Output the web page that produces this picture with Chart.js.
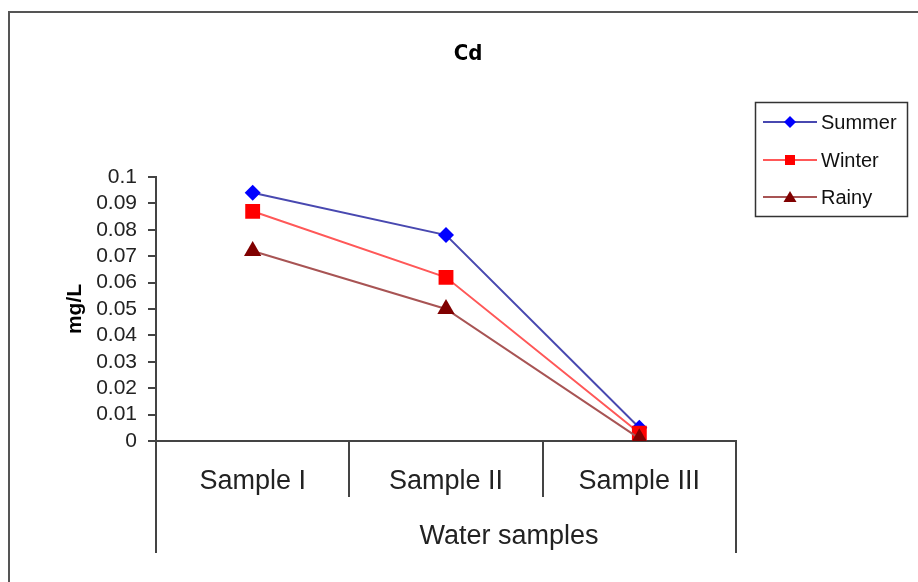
<!DOCTYPE html>
<html>
<head>
<meta charset="utf-8">
<script src="https://cdn.jsdelivr.net/npm/chart.js"></script>
<style>
  html, body { margin: 0; padding: 0; background: #fff; }
  #wrap { position: relative; width: 918px; height: 582px; }
</style>
</head>
<body>
<div id="wrap"><canvas id="cdChart" width="918" height="582"></canvas></div>
<script>
// ================================
// DATA
// ================================
const categories = ["Sample I", "Sample II", "Sample III"];
const summerValues = [0.094, 0.078, 0.005];
const winterValues = [0.087, 0.062, 0.003];
const rainyValues = [0.072, 0.050, 0.001];
const yTickLabels = ["0", "0.01", "0.02", "0.03", "0.04", "0.05", "0.06", "0.07", "0.08", "0.09", "0.1"];
const seriesNames = ["Summer", "Winter", "Rainy"];

const AXIS_COLOR = '#444444';

// ================================
// EXTRA DRAWING: frame, title, axis box, legend
// ================================
const decorPlugin = {
    id: 'decor',
    beforeDraw(chart) {
        const ctx = chart.ctx;
        ctx.save();
        ctx.fillStyle = '#ffffff';
        ctx.fillRect(0, 0, chart.width, chart.height);
        // outer frame (only top and left are visible in the picture)
        ctx.strokeStyle = '#555555';
        ctx.lineWidth = 2;
        ctx.beginPath();
        ctx.moveTo(9, chart.height);
        ctx.lineTo(9, 12);
        ctx.lineTo(chart.width, 12);
        ctx.stroke();
        ctx.restore();
    },
    afterDraw(chart) {
        const ctx = chart.ctx;
        const area = chart.chartArea;
        ctx.save();

        // axis box edges run down past the category labels
        ctx.strokeStyle = AXIS_COLOR;
        ctx.lineWidth = 2;
        ctx.beginPath();
        ctx.moveTo(area.left, area.bottom);
        ctx.lineTo(area.left, 553);
        ctx.moveTo(area.right, area.bottom);
        ctx.lineTo(area.right, 553);
        ctx.stroke();

        // x axis title
        ctx.fillStyle = '#222222';
        ctx.font = '27px "Liberation Sans", Arial, sans-serif';
        ctx.textAlign = 'center';
        ctx.textBaseline = 'middle';
        ctx.fillText('Water samples', 509, 537);

        // chart title
        ctx.fillStyle = '#000000';
        ctx.font = 'bold 22px "Liberation Sans Narrow", "DejaVu Sans Condensed", Arial, sans-serif';
        ctx.fillText('Cd', 468, 54);

        // legend
        ctx.strokeStyle = '#333333';
        ctx.lineWidth = 1.5;
        ctx.strokeRect(755.5, 102.5, 152, 114);
        const rows = [122, 160, 197];
        chart.data.datasets.forEach((ds, i) => {
            const y = rows[i];
            ctx.strokeStyle = ds.borderColor;
            ctx.lineWidth = 2;
            ctx.beginPath();
            ctx.moveTo(763, y);
            ctx.lineTo(817, y);
            ctx.stroke();
            ctx.fillStyle = ds.pointBackgroundColor;
            ctx.beginPath();
            const x = 790;
            if (ds.pointStyle === 'rectRot') {
                ctx.moveTo(x, y - 6); ctx.lineTo(x + 6, y); ctx.lineTo(x, y + 6); ctx.lineTo(x - 6, y);
            } else if (ds.pointStyle === 'rect') {
                ctx.rect(x - 5, y - 5, 10, 10);
            } else {
                ctx.moveTo(x, y - 6); ctx.lineTo(x + 6.5, y + 5); ctx.lineTo(x - 6.5, y + 5);
            }
            ctx.closePath();
            ctx.fill();
            ctx.fillStyle = '#111111';
            ctx.font = '20px "Liberation Sans", Arial, sans-serif';
            ctx.textAlign = 'left';
            ctx.textBaseline = 'middle';
            ctx.fillText(ds.label, 821, y + 1);
        });
        ctx.restore();
    }
};

// ================================
// CHART
// ================================
const ctx = document.getElementById('cdChart').getContext('2d');
new Chart(ctx, {
    type: 'line',
    data: {
        labels: categories,
        datasets: [
            {
                label: seriesNames[0],
                data: summerValues,
                order: 3, // later series sit on top, as in the original
                borderColor: '#4848b0',
                borderWidth: 2,
                pointStyle: 'rectRot',
                pointRadius: 8,
                pointBackgroundColor: '#0000ff',
                pointBorderColor: '#0000ff',
                pointBorderWidth: 0,
                tension: 0,
            },
            {
                label: seriesNames[1],
                data: winterValues,
                order: 2,
                borderColor: '#ff5858',
                borderWidth: 2,
                pointStyle: 'rect',
                pointRadius: 10.5,
                pointBackgroundColor: '#ff0000',
                pointBorderColor: '#ff0000',
                pointBorderWidth: 0,
                tension: 0,
            },
            {
                label: seriesNames[2],
                data: rainyValues,
                order: 1,
                borderColor: '#a85454',
                borderWidth: 2,
                pointStyle: 'triangle',
                pointRadius: 10,
                pointBackgroundColor: '#800000',
                pointBorderColor: '#800000',
                pointBorderWidth: 0,
                tension: 0,
            }
        ]
    },
    options: {
        responsive: false,
        animation: false,
        layout: { padding: { left: 8, top: 177, right: 182, bottom: 0 } },
        scales: {
            x: {
                offset: true,
                afterFit(scale) { scale.height = 141; },
                grid: {
                    offset: true,
                    drawOnChartArea: false,
                    tickLength: 56,
                    color: AXIS_COLOR,
                    lineWidth: 2,
                },
                border: { display: true, color: AXIS_COLOR, width: 2 },
                ticks: {
                    padding: -32,
                    color: '#222222',
                    font: { family: '"Liberation Sans", Arial, sans-serif', size: 27 },
                    maxRotation: 0,
                },
            },
            y: {
                min: 0,
                max: 0.1,
                afterFit(scale) { scale.width = 148; },
                grid: {
                    drawOnChartArea: false,
                    tickLength: 8,
                    color: AXIS_COLOR,
                    lineWidth: 2,
                },
                border: { display: true, color: AXIS_COLOR, width: 2 },
                ticks: {
                    stepSize: 0.01,
                    autoSkip: false,
                    padding: 11,
                    color: '#222222',
                    font: { family: '"Liberation Sans", Arial, sans-serif', size: 21 },
                    callback: (value, index) => yTickLabels[index],
                },
                title: {
                    display: true,
                    text: 'mg/L',
                    color: '#000000',
                    font: { family: '"Liberation Sans", Arial, sans-serif', size: 21, weight: 'bold' },
                    padding: { top: 55, bottom: 0 },
                },
            }
        },
        plugins: {
            legend: { display: false },
            title: { display: false },
            tooltip: { enabled: false }
        }
    },
    plugins: [decorPlugin]
});
</script>
</body>
</html>
